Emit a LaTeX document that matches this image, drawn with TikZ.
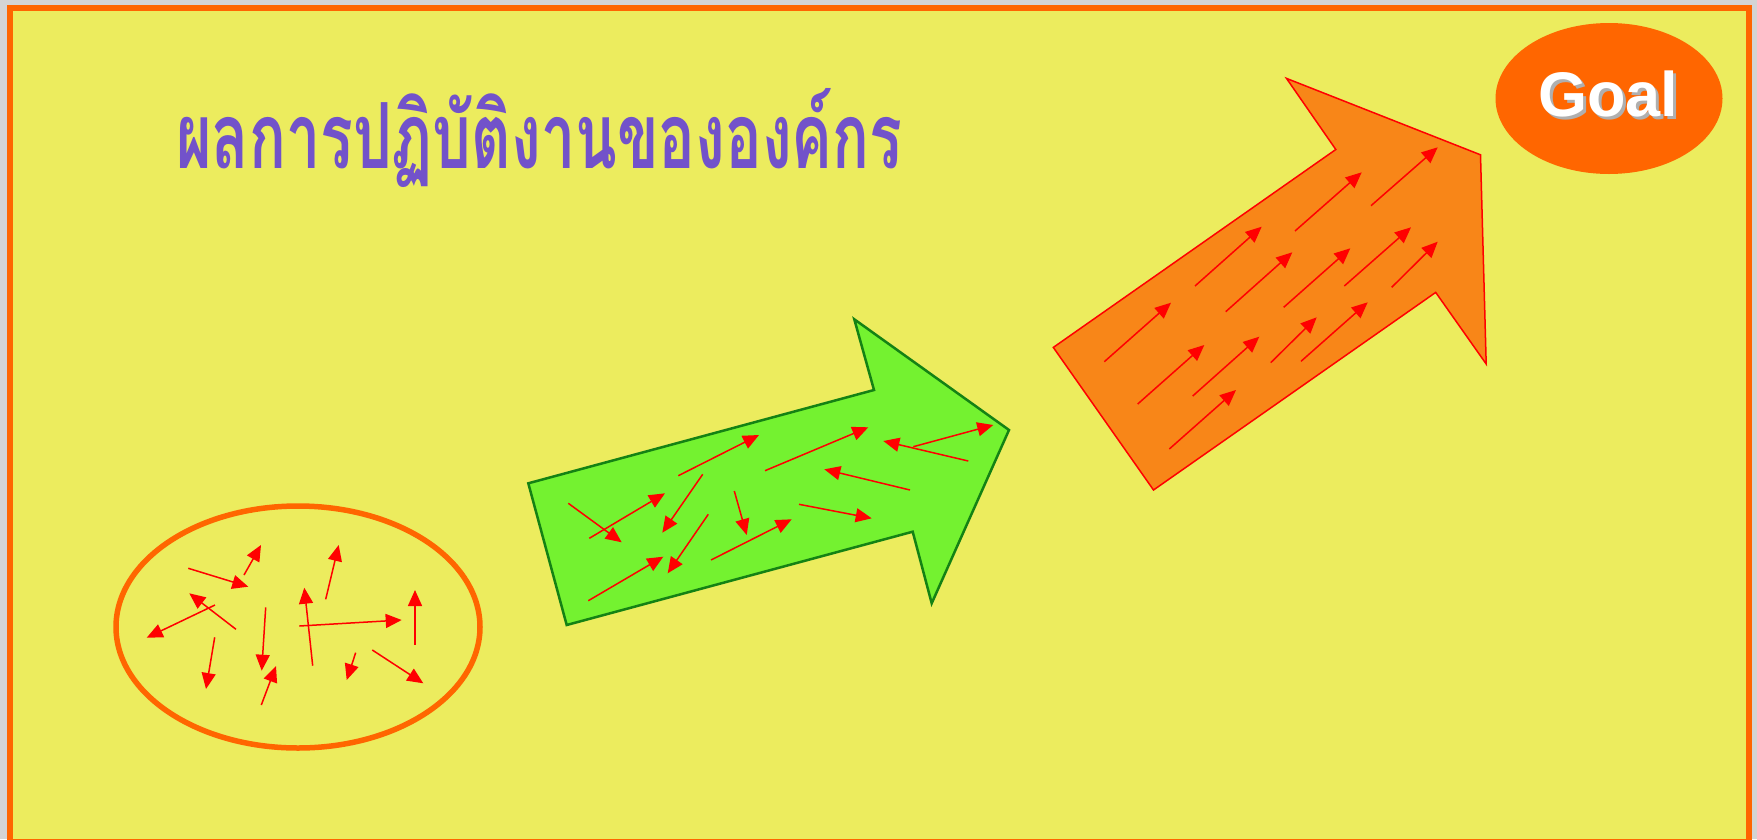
\documentclass[tikz,border=0pt]{standalone}
\usepackage{fontspec}
\usetikzlibrary{arrows.meta,shapes.geometric}
\newfontfamily\thaifont[Script=Thai]{Loma}
\newfontfamily\goalfont{Liberation Sans}
\definecolor{bggray}{HTML}{D4D4D4}
\definecolor{bgyellow}{RGB}{236,236,94}
\definecolor{frameorange}{HTML}{FF6600}
\definecolor{greenfill}{RGB}{116,242,48}
\definecolor{greenline}{RGB}{20,130,20}
\definecolor{orangefill}{RGB}{248,134,24}
\definecolor{titlepurple}{RGB}{114,82,202}
\definecolor{shadowgray}{RGB}{175,175,175}
\tikzset{
  redarrow/.style={draw=red, line width=1.5pt, -{Triangle[length=16pt,width=14pt]}},
}
\begin{document}
\begin{tikzpicture}[x=1pt,y=-1pt]
\useasboundingbox (0,0) rectangle (1757,839);
\fill[bggray] (0,0) rectangle (1757,839);
\draw[frameorange, line width=6pt, fill=bgyellow] (10,8) rectangle (1749,842);

% title
\node[anchor=north west, inner sep=0pt, text=titlepurple] (title) at (176,88)
  {\resizebox{726pt}{80pt}{\thaifont\bfseries ผลการปฏิบัติงานขององค์กร}};

% goal
\node[ellipse, fill=frameorange, inner sep=0pt, minimum width=227pt, minimum height=151pt] (goal) at (1609,98.5) {};
\node[text=shadowgray, inner sep=0pt, font=\goalfont\bfseries\fontsize{63}{63}\selectfont] (goalshadow) at (1611,97) {Goal};
\node[text=white, inner sep=0pt, font=\goalfont\bfseries\fontsize{63}{63}\selectfont] (goaltext) at (1608,94) {Goal};

% ellipse of scattered arrows
\node[ellipse, draw=frameorange, line width=5.5pt, inner sep=0pt, minimum width=364pt, minimum height=242pt] (scatter) at (298,627) {};
\draw[redarrow] (188.3,568.3) -- (248.3,586.7);
\draw[redarrow] (244,575) -- (261,545);
\draw[redarrow] (236,629.3) -- (189.3,593.3);
\draw[redarrow] (215,605) -- (146.7,637.7);
\draw[redarrow] (265.7,607.3) -- (261.7,670.7);
\draw[redarrow] (214.7,637.3) -- (206,689);
\draw[redarrow] (261.3,705) -- (276,666);
\draw[redarrow] (312.7,665.7) -- (304.3,587.7);
\draw[redarrow] (325.7,599.3) -- (338.7,545);
\draw[redarrow] (299.3,626) -- (401.7,620);
\draw[redarrow] (415,644.7) -- (415,590);
\draw[redarrow] (355.7,652.7) -- (346.7,680);
\draw[redarrow] (372.3,650) -- (423.3,683.3);

% green arrow
\draw[greenline, line width=2.5pt, fill=greenfill, line join=miter]
  (566.7,625) -- (528.3,483.3) -- (874,390) -- (854.3,319.3) -- (1009,430)
  -- (931.7,603.3) -- (912.7,531.7) -- cycle;
\draw[redarrow] (568.3,503.3) -- (621.7,542.3);
\draw[redarrow] (589.3,538.3) -- (665,493.3);
\draw[redarrow] (678.3,475.7) -- (759,435);
\draw[redarrow] (702.7,474.3) -- (662.3,532.7);
\draw[redarrow] (588.3,600.7) -- (663.3,556.7);
\draw[redarrow] (708.3,514.3) -- (667.7,573.3);
\draw[redarrow] (734.3,491) -- (746.7,535);
\draw[redarrow] (711,560) -- (791.7,519.3);
\draw[redarrow] (765,470.7) -- (868.3,427.3);
\draw[redarrow] (910,490) -- (824.3,469.3);
\draw[redarrow] (799,504.3) -- (871.7,518.3);
\draw[redarrow] (968.3,461) -- (883.3,441);
\draw[redarrow] (913.3,446.7) -- (993.3,425);

% orange arrow
\draw[red, line width=1.5pt, fill=orangefill, line join=miter]
  (1153.5,490) -- (1053.3,347.4) -- (1335.8,149.5) -- (1286.5,78.4) -- (1480.5,154.8)
  -- (1486.2,364) -- (1435.7,292.4) -- cycle;
\draw[redarrow] (1104.3,361.7) -- (1171,302.7);
\draw[redarrow] (1137.7,404) -- (1204.3,345);
\draw[redarrow] (1169.3,449) -- (1236,390);
\draw[redarrow] (1195,286) -- (1261.7,226.7);
\draw[redarrow] (1225.7,311.7) -- (1292.3,252.3);
\draw[redarrow] (1192.7,396) -- (1259.3,336.7);
\draw[redarrow] (1270.7,362.7) -- (1316.7,317.3);
\draw[redarrow] (1301,361.3) -- (1367.7,302.3);
\draw[redarrow] (1283.7,307.3) -- (1350.3,248.3);
\draw[redarrow] (1295,231) -- (1361.7,172.3);
\draw[redarrow] (1344.3,286) -- (1411,227.3);
\draw[redarrow] (1391.7,287.3) -- (1437.7,241.7);
\draw[redarrow] (1371,205.7) -- (1437.7,147.3);
\end{tikzpicture}
\end{document}
